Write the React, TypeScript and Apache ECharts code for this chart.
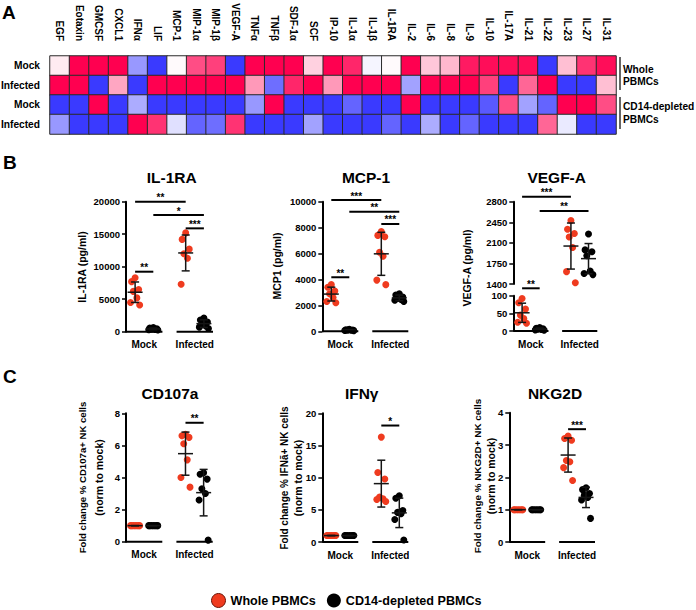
import React, { useEffect, useRef } from 'react';
import * as echarts from 'echarts';

// ---------- Panel A: heatmap ----------
const HEAT_COLS = ['EGF', 'Eotaxin', 'GMCSF', 'CXCL1', 'IFNα', 'LIF', 'MCP-1', 'MIP-1α', 'MIP-1β', 'VEGF-A', 'TNFα', 'TNFβ', 'SDF-1α', 'SCF', 'IP-10', 'IL-1α', 'IL-1β', 'IL-1RA', 'IL-2', 'IL-6', 'IL-8', 'IL-9', 'IL-10', 'IL-17A', 'IL-21', 'IL-22', 'IL-23', 'IL-27', 'IL-31'];
const HEAT_ROWS = ['Mock', 'Infected', 'Mock', 'Infected'];
const HEAT_GROUPS = ['Whole\nPBMCs', 'CD14-depleted\nPBMCs'];
const HEAT_WHOLE_MOCK = [0.08, 1, 1, 1, -0.5, -0.95, 0.02, 0.7, 0.75, -0.95, 1, 1, 1, 0.18, 1, 0.85, -0.05, 0.02, 1, 0.22, 0.28, 0.9, 0.95, 0.95, 0.95, -0.95, 0.25, 0.8, 0.95];
const HEAT_WHOLE_INF = [1, 1, -0.95, 0.35, -0.95, 1, 1, 1, 1, 1, 0.4, -0.7, 0.85, 1, 0.4, 1, 1, 1, -0.45, 1, 1, 1, 0.75, -0.95, 0.6, 1, -0.95, -0.95, 0.25];
const HEAT_CD14_MOCK = [-0.95, -0.95, 1, -0.95, -0.4, -0.95, -0.95, -0.95, -0.95, -0.95, -0.5, 1, -0.95, -0.95, -0.95, -0.75, -0.95, -0.95, 1, -0.95, -0.95, -0.95, -0.8, 0.7, -0.45, -0.75, 1, 1, 0.7];
const HEAT_CD14_INF = [-0.5, -0.95, -0.95, -0.95, 1, 0.8, -0.15, -0.75, -0.7, 0.8, -0.95, -0.95, -0.95, -0.45, -0.95, -0.95, -0.95, -0.75, -0.95, -0.4, -0.95, -0.75, -0.95, -0.95, -0.95, 0.6, -0.1, -0.95, -0.95];

// ---------- Shared ----------
const CATEGORIES = ['Mock', 'Infected'];
const LEGEND_NAMES = ['Whole PBMCs', 'CD14-depleted PBMCs'];

// ---------- Panel B ----------
const IL1RA_WHOLE_MOCK = [8300, 7700, 6500, 6200, 5200, 4500, 4100];
const IL1RA_CD14_MOCK = [650, 550, 450, 400, 350, 300, 250];
const IL1RA_WHOLE_INF = [15200, 14200, 12700, 12000, 11300, 7300];
const IL1RA_CD14_INF = [2100, 1800, 1500, 1200, 900, 700, 500];
const IL1RA_SIG: [string, string, number, string][] = [['MR', 'IR', 20000, '**'], ['MB', 'IB', 17950, '*'], ['IR', 'IB', 15900, '***'], ['MR', 'MB', 9230, '**']];

const MCP1_WHOLE_MOCK = [3600, 3400, 3100, 2900, 2600, 2300, 2200];
const MCP1_CD14_MOCK = [150, 120, 100, 90, 80, 60, 50];
const MCP1_WHOLE_INF = [7700, 7400, 7300, 6100, 5800, 3950, 3600];
const MCP1_CD14_INF = [2900, 2800, 2650, 2550, 2450, 2400, 2300];
const MCP1_SIG: [string, string, number, string][] = [['MR', 'IR', 10130, '***'], ['MB', 'IB', 9230, '**'], ['IR', 'IB', 8280, '***'], ['MR', 'MB', 4170, '**']];

const VEGF_WHOLE_MOCK = [92, 80, 62, 45, 35, 25, 22];
const VEGF_CD14_MOCK = [10, 8, 6, 5, 4, 3, 2];
const VEGF_WHOLE_INF = [2480, 2330, 2260, 2200, 2020, 1610, 1420];
const VEGF_CD14_INF = [2250, 1980, 1950, 1880, 1620, 1580, 1560];
const VEGF_SIG_UPPER: [string, string, number, string][] = [['MR', 'IR', 2885, '***'], ['MB', 'IB', 2642, '**']];
const VEGF_SIG_LOWER: [string, string, number, string][] = [['MR', 'MB', 121, '**']];

// ---------- Panel C ----------
const CD107A_WHOLE_MOCK = [1, 1, 1, 1, 1, 1, 1];
const CD107A_CD14_MOCK = [1, 1, 1, 1, 1, 1, 1];
const CD107A_WHOLE_INF = [6.7, 6.6, 6.5, 6.1, 5.1, 4.0, 3.4];
const CD107A_CD14_INF = [4.3, 4.2, 3.9, 3.3, 3.0, 2.6, 0.1];
const CD107A_SIG: [string, string, number, string][] = [['IR', 'IB', 7.41, '**']];

const IFNG_WHOLE_MOCK = [1, 1, 1, 1, 1, 1, 1];
const IFNG_CD14_MOCK = [1, 1, 1, 1, 1, 1, 1];
const IFNG_WHOLE_INF = [16.3, 10.8, 9.8, 7.0, 6.7, 6.6, 6.3];
const IFNG_CD14_INF = [7.2, 6.8, 4.9, 4.6, 4.4, 3.5, 0.3];
const IFNG_SIG: [string, string, number, string][] = [['IR', 'IB', 18.1, '*']];

const NKG2D_WHOLE_MOCK = [1, 1, 1, 1, 1, 1, 1];
const NKG2D_CD14_MOCK = [1, 1, 1, 1, 1, 1, 1];
const NKG2D_WHOLE_INF = [3.28, 3.2, 3.15, 2.52, 2.48, 2.3, 1.9];
const NKG2D_CD14_INF = [1.68, 1.62, 1.5, 1.45, 1.38, 1.3, 0.73];
const NKG2D_SIG: [string, string, number, string][] = [['IR', 'IB', 3.49, '***']];

// ---------- Style / layout ----------
const FONT = "'Liberation Sans', Arial, Helvetica, sans-serif";
const RED = '#ef3b1f';
const BLACK = '#000000';
const GROUP_X: Record<string, number> = { MR: 0.82, MB: 1.18, IR: 1.82, IB: 2.18 };
const X_MIN = 0.64;
const X_MAX = 2.36;
const SEG_HALF = 0.36;
const JITTER = [0, -0.07, 0.07, -0.035, 0.035, -0.09, 0.09];

const mean = (a: number[]) => a.reduce((s, v) => s + v, 0) / a.length;
const sd = (a: number[]) => {
  const m = mean(a);
  return Math.sqrt(a.reduce((s, v) => s + (v - m) * (v - m), 0) / (a.length - 1));
};

export default function App() {
  const ref = useRef<HTMLDivElement>(null);
  useEffect(() => {
    const chart = echarts.init(ref.current!, null, { renderer: 'svg' });
    const grid: any[] = [];
    const xAxis: any[] = [];
    const yAxis: any[] = [];
    const series: any[] = [];
    const txt = (o: any) => ({ fontFamily: FONT, fontWeight: 'bold', fill: '#000', ...o });

    // Heatmap
    grid.push({ left: 50, top: 56, width: 566, height: 78, outerBoundsMode: 'none' });
    xAxis.push({
      type: 'category', gridIndex: 0, position: 'top', data: HEAT_COLS,
      axisLine: { show: false }, axisTick: { show: false }, splitLine: { show: false },
      axisLabel: { rotate: 90, interval: 0, margin: 15, fontSize: 10, fontWeight: 'bold', fontFamily: FONT, color: '#000', hideOverlap: false },
    });
    yAxis.push({
      type: 'category', gridIndex: 0, inverse: true, data: ['r0', 'r1', 'r2', 'r3'],
      axisLine: { show: false }, axisTick: { show: false }, splitLine: { show: false },
      axisLabel: { formatter: (_v: string, i: number) => HEAT_ROWS[i], margin: 10, fontSize: 10.2, fontWeight: 'bold', fontFamily: FONT, color: '#000' },
    });
    const heatRows = [HEAT_WHOLE_MOCK, HEAT_WHOLE_INF, HEAT_CD14_MOCK, HEAT_CD14_INF];
    series.push({
      type: 'heatmap', xAxisIndex: 0, yAxisIndex: 0,
      data: heatRows.flatMap((r, yi) => r.map((v, xi) => [xi, yi, v])),
      itemStyle: { borderColor: '#2b2b2b', borderWidth: 1 },
      emphasis: { disabled: true },
    });

    const addPlot = (
      rect: any, yMin: number, yMax: number, interval: number,
      groups: [string, number[], number][], sig: [string, string, number, string][], showCats: boolean,
    ) => {
      const gi = grid.length;
      grid.push({ ...rect, outerBoundsMode: 'none' });
      xAxis.push({ type: 'value', gridIndex: gi, min: X_MIN, max: X_MAX, show: false });
      yAxis.push({
        type: 'value', gridIndex: gi, min: yMin, max: yMax, interval,
        axisLine: { show: true, lineStyle: { color: '#000', width: 2 } },
        axisTick: { show: true, length: 4, lineStyle: { color: '#000', width: 1.5 } },
        axisLabel: { margin: 6, fontSize: 9.5, fontWeight: 'bold', fontFamily: FONT, color: '#000', formatter: (v: number) => String(v) },
        splitLine: { show: false },
      });
      groups.forEach(([key, vals, kind]) => {
        series.push({
          type: 'scatter', name: LEGEND_NAMES[kind], xAxisIndex: gi, yAxisIndex: gi,
          symbol: 'circle', symbolSize: 7, z: 2,
          itemStyle: { color: kind === 0 ? RED : BLACK, opacity: 1 },
          emphasis: { disabled: true },
          data: vals.map((v, i) => [GROUP_X[key] + JITTER[i % JITTER.length], v]),
        });
      });
      // mean +/- SD
      series.push({
        type: 'custom', xAxisIndex: gi, yAxisIndex: gi, z: 3, silent: true, clip: false,
        data: groups.map(([key, vals]) => [GROUP_X[key], mean(vals), sd(vals)]),
        renderItem: (_p: any, api: any) => {
          const x = api.value(0), m = api.value(1), s = api.value(2);
          const top = api.coord([x, m + s]);
          const bot = api.coord([x, m - s]);
          const mid = api.coord([x, m]);
          const st = { stroke: '#151515', lineWidth: 1.5 };
          return {
            type: 'group', children: [
              { type: 'line', shape: { x1: mid[0], y1: top[1], x2: mid[0], y2: bot[1] }, style: st },
              { type: 'line', shape: { x1: mid[0] - 4, y1: top[1], x2: mid[0] + 4, y2: top[1] }, style: st },
              { type: 'line', shape: { x1: mid[0] - 4, y1: bot[1], x2: mid[0] + 4, y2: bot[1] }, style: st },
              { type: 'line', shape: { x1: mid[0] - 7.5, y1: mid[1], x2: mid[0] + 7.5, y2: mid[1] }, style: st },
            ],
          };
        },
      });
      // significance bars
      if (sig.length) {
        series.push({
          type: 'custom', xAxisIndex: gi, yAxisIndex: gi, z: 4, silent: true, clip: false,
          data: sig.map((s) => [GROUP_X[s[0]], s[2]]),
          renderItem: (p: any, api: any) => {
            const s = sig[p.dataIndex];
            const a = api.coord([GROUP_X[s[0]], s[2]]);
            const b = api.coord([GROUP_X[s[1]], s[2]]);
            return {
              type: 'group', children: [
                { type: 'line', shape: { x1: a[0], y1: a[1], x2: b[0], y2: b[1] }, style: { stroke: '#000', lineWidth: 2 } },
                { type: 'text', x: (a[0] + b[0]) / 2, y: a[1] + 1, style: txt({ text: s[3], fontSize: 10, align: 'center', verticalAlign: 'bottom' }) },
              ],
            };
          },
        });
      }
      // segmented x axis and category labels
      if (showCats) {
        series.push({
          type: 'custom', xAxisIndex: gi, yAxisIndex: gi, z: 4, silent: true, clip: false,
          data: CATEGORIES.map((_c, i) => [i + 1, yMin]),
          renderItem: (p: any, api: any) => {
            const x = api.value(0);
            const a = api.coord([x - SEG_HALF, yMin]);
            const b = api.coord([x + SEG_HALF, yMin]);
            return {
              type: 'group', children: [
                { type: 'line', shape: { x1: a[0], y1: a[1], x2: b[0], y2: b[1] }, style: { stroke: '#000', lineWidth: 2 } },
                { type: 'text', x: (a[0] + b[0]) / 2, y: a[1] + 8, style: txt({ text: CATEGORIES[p.dataIndex], fontSize: 10, align: 'center', verticalAlign: 'top' }) },
              ],
            };
          },
        });
      }
    };

    // Panel B
    addPlot({ left: 126, top: 201.7, width: 87, height: 130 }, 0, 20000, 5000,
      [['MR', IL1RA_WHOLE_MOCK, 0], ['MB', IL1RA_CD14_MOCK, 1], ['IR', IL1RA_WHOLE_INF, 0], ['IB', IL1RA_CD14_INF, 1]], IL1RA_SIG, true);
    addPlot({ left: 322.3, top: 201.7, width: 86, height: 129.6 }, 0, 10000, 2000,
      [['MR', MCP1_WHOLE_MOCK, 0], ['MB', MCP1_CD14_MOCK, 1], ['IR', MCP1_WHOLE_INF, 0], ['IB', MCP1_CD14_INF, 1]], MCP1_SIG, true);
    addPlot({ left: 513.3, top: 201.7, width: 84, height: 82.3 }, 1400, 2800, 350,
      [['IR', VEGF_WHOLE_INF, 0], ['IB', VEGF_CD14_INF, 1]], VEGF_SIG_UPPER, false);
    addPlot({ left: 513.3, top: 295.7, width: 84, height: 35.3 }, 0, 100, 50,
      [['MR', VEGF_WHOLE_MOCK, 0], ['MB', VEGF_CD14_MOCK, 1]], VEGF_SIG_LOWER, true);
    // Panel C
    addPlot({ left: 126, top: 413.3, width: 86.7, height: 128.4 }, 0, 8, 2,
      [['MR', CD107A_WHOLE_MOCK, 0], ['MB', CD107A_CD14_MOCK, 1], ['IR', CD107A_WHOLE_INF, 0], ['IB', CD107A_CD14_INF, 1]], CD107A_SIG, true);
    addPlot({ left: 322.3, top: 413.3, width: 86, height: 128.7 }, 0, 20, 5,
      [['MR', IFNG_WHOLE_MOCK, 0], ['MB', IFNG_CD14_MOCK, 1], ['IR', IFNG_WHOLE_INF, 0], ['IB', IFNG_CD14_INF, 1]], IFNG_SIG, true);
    addPlot({ left: 509.3, top: 412.7, width: 85.7, height: 129.3 }, 0, 4, 1,
      [['MR', NKG2D_WHOLE_MOCK, 0], ['MB', NKG2D_CD14_MOCK, 1], ['IR', NKG2D_WHOLE_INF, 0], ['IB', NKG2D_CD14_INF, 1]], NKG2D_SIG, true);

    const T = (x: number, y: number, text: string, fontSize: number, extra: any = {}) => ({
      type: 'text', x, y, ...extra,
      style: txt({ text, fontSize, align: 'center', verticalAlign: 'middle', ...(extra.style || {}) }),
    });
    const R = Math.PI / 2;

    const graphic = [
      { type: 'text', x: 2, y: 12, style: txt({ text: 'A', fontSize: 19, verticalAlign: 'middle' }) },
      { type: 'text', x: 3, y: 162, style: txt({ text: 'B', fontSize: 19, verticalAlign: 'middle' }) },
      { type: 'text', x: 3, y: 376, style: txt({ text: 'C', fontSize: 19, verticalAlign: 'middle' }) },
      { type: 'line', shape: { x1: 620, y1: 57, x2: 620, y2: 90 }, style: { stroke: '#333', lineWidth: 1.5 } },
      { type: 'line', shape: { x1: 620, y1: 97, x2: 620, y2: 129 }, style: { stroke: '#333', lineWidth: 1.5 } },
      { type: 'text', x: 623, y: 75.5, style: txt({ text: HEAT_GROUPS[0], fontSize: 10.2, lineHeight: 12.5, verticalAlign: 'middle' }) },
      { type: 'text', x: 623, y: 113, style: txt({ text: HEAT_GROUPS[1], fontSize: 10.2, lineHeight: 12.5, verticalAlign: 'middle' }) },
      // titles
      T(171.7, 177, 'IL-1RA', 15.5),
      T(366, 177, 'MCP-1', 15.5),
      T(556.7, 177, 'VEGF-A', 15.5),
      T(170, 393, 'CD107a', 15.5),
      T(361.7, 393, 'IFNγ', 15.5),
      T(555, 393, 'NKG2D', 15.5),
      // y axis names
      T(82, 267, 'IL-1RA (pg/ml)', 10.5, { rotation: R }),
      T(277, 266, 'MCP1 (pg/ml)', 10.5, { rotation: R }),
      T(467, 268, 'VEGF-A (pg/ml)', 10.5, { rotation: R }),
      T(82.7, 477.5, 'Fold change % CD107a+ NK cells', 9.6, { rotation: R }),
      T(98.5, 477.5, '(norm to mock)', 10.5, { rotation: R }),
      T(284.5, 478, 'Fold change % IFNã+ NK cells', 10, { rotation: R }),
      T(297.5, 478, '(norm to mock)', 10.5, { rotation: R }),
      T(477.5, 476, 'Fold change % NKG2D+ NK cells', 9.9, { rotation: R }),
      T(490.5, 476, '(norm to mock)', 10.5, { rotation: R }),
    ];

    chart.setOption({
      animation: false,
      backgroundColor: '#ffffff',
      grid, xAxis, yAxis, series, graphic,
      visualMap: {
        type: 'continuous', min: -1, max: 1, show: false, seriesIndex: 0,
        inRange: { color: ['#3030ff', '#ffffff', '#ff0050'] },
      },
      legend: {
        left: 211, top: 593, padding: 0, itemWidth: 14, itemHeight: 14, itemGap: 11, icon: 'circle',
        selectedMode: false,
        textStyle: { fontFamily: FONT, fontWeight: 'bold', fontSize: 12.6, color: '#000' },
        data: [
          { name: LEGEND_NAMES[0], itemStyle: { color: RED, borderColor: '#6b1408', borderWidth: 1 } },
          { name: LEGEND_NAMES[1], itemStyle: { color: BLACK } },
        ],
      },
    });
    return () => chart.dispose();
  }, []);
  return <div ref={ref} style={{ position: 'absolute', left: 0, top: 0, width: 696, height: 610, background: '#fff' }} />;
}
